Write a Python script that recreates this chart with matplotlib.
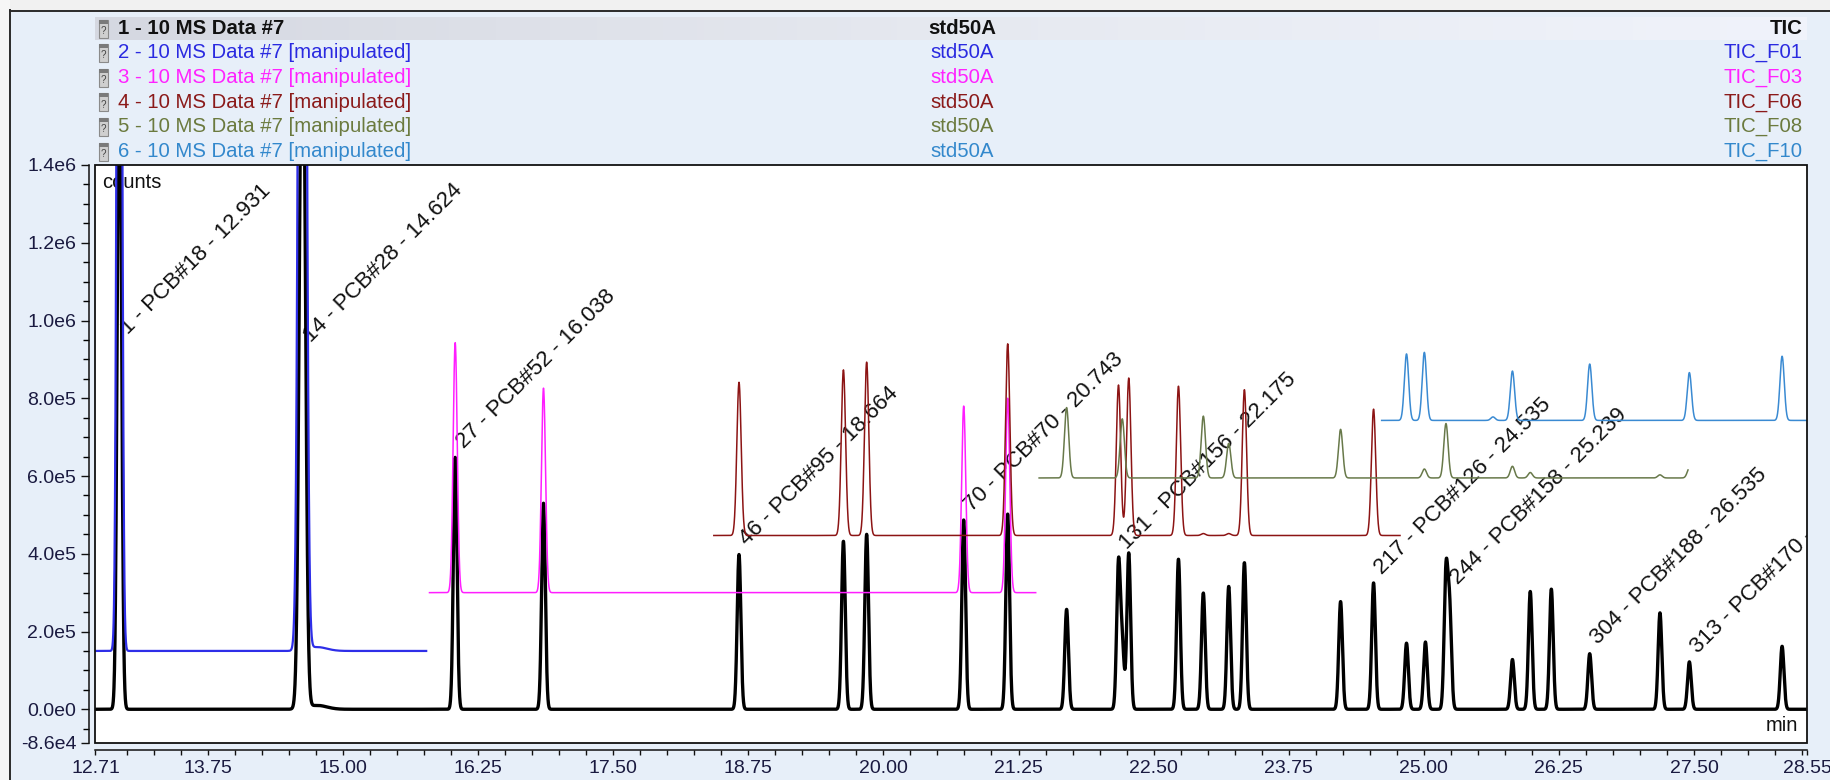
import numpy as np
import matplotlib
matplotlib.use('Agg')
import matplotlib.pyplot as plt
from matplotlib.patches import Rectangle
from matplotlib.colors import LinearSegmentedColormap
from matplotlib.ticker import FixedLocator

plt.rcParams['font.family'] = ['Liberation Sans', 'DejaVu Sans']

W, H, DPI = 1831, 780, 100

# ---------------- data ----------------
x_min, x_max = 12.71, 28.55
y_min, y_max = -8.6e4, 1.4e6

x_major = [12.71, 13.75, 15.00, 16.25, 17.50, 18.75, 20.00, 21.25, 22.50, 23.75, 25.00, 26.25, 27.50, 28.55]
x_major_labels = ["12.71", "13.75", "15.00", "16.25", "17.50", "18.75", "20.00", "21.25", "22.50", "23.75", "25.00", "26.25", "27.50", "28.55"]
y_major = [-8.6e4, 0, 2e5, 4e5, 6e5, 8e5, 1.0e6, 1.2e6, 1.4e6]
y_major_labels = ["-8.6e4", "0.0e0", "2.0e5", "4.0e5", "6.0e5", "8.0e5", "1.0e6", "1.2e6", "1.4e6"]

# trace 1 (TIC) : peak apex times (min), apex heights (counts), widths (min)
black_t = [12.931, 14.624, 14.76, 16.038, 16.855, 18.664, 19.630, 19.845, 20.743, 21.150,
           21.695, 22.175, 22.210, 22.270, 22.730, 22.960, 23.195, 23.340, 24.230, 24.535,
           24.840, 25.015, 25.205, 25.239, 25.820, 25.985, 26.180, 26.535, 27.185, 27.457, 28.315]
black_h = [1.8e6, 2.0e6, 1.0e4, 6.48e5, 5.3e5, 3.98e5, 4.32e5, 4.5e5, 4.87e5, 5.02e5,
           2.57e5, 3.7e5, 1.6e5, 4.02e5, 3.86e5, 2.99e5, 3.16e5, 3.77e5, 2.77e5, 3.25e5,
           1.7e5, 1.73e5, 3.45e5, 2.5e5, 1.28e5, 3.03e5, 3.09e5, 1.43e5, 2.48e5, 1.22e5, 1.62e5]
black_w = [0.019, 0.026, 0.09] + [0.017] * 28

# trace 2 (TIC_F01)
f01_base, f01_start, f01_end = 1.5e5, 12.71, 15.77
f01_t = [12.931, 14.624, 14.76]
f01_h = [4.0e6, 5.1e6, 1.6e5]
f01_w = [0.019, 0.027, 0.09]

# trace 3 (TIC_F03)
f03_base, f03_start, f03_end = 3.0e5, 15.80, 21.41
f03_t = [16.038, 16.855, 20.743, 21.150]
f03_h = [9.43e5, 8.26e5, 7.8e5, 8.0e5]

# trace 4 (TIC_F06)
f06_base, f06_start, f06_end = 4.47e5, 18.43, 24.78
f06_t = [18.664, 19.630, 19.845, 21.150, 22.175, 22.270, 22.730, 22.960, 23.195, 23.340, 24.535]
f06_h = [8.41e5, 8.73e5, 8.93e5, 9.4e5, 8.34e5, 8.52e5, 8.31e5, 4.52e5, 4.52e5, 8.22e5, 7.72e5]

# trace 5 (TIC_F08)
f08_base, f08_start, f08_end = 5.95e5, 21.44, 27.445
f08_t = [21.695, 22.210, 22.960, 23.195, 24.230, 25.005, 25.205, 25.820, 25.985, 27.185, 27.457]
f08_h = [7.76e5, 7.47e5, 7.54e5, 6.84e5, 7.2e5, 6.18e5, 7.35e5, 6.25e5, 6.09e5, 6.03e5, 6.2e5]

# trace 6 (TIC_F10)
f10_base, f10_start, f10_end = 7.43e5, 24.61, 28.55
f10_t = [24.840, 25.005, 25.640, 25.820, 26.535, 27.457, 28.315]
f10_h = [9.14e5, 9.18e5, 7.52e5, 8.7e5, 8.88e5, 8.66e5, 9.08e5]

# peak labels
label_text = ["1 - PCB#18 - 12.931", "14 - PCB#28 - 14.624", "27 - PCB#52 - 16.038",
              "46 - PCB#95 - 18.664", "70 - PCB#70 - 20.743", "131 - PCB#156 - 22.175",
              "217 - PCB#126 - 24.535", "244 - PCB#158 - 25.239", "304 - PCB#188 - 26.535",
              "313 - PCB#170 - 27.457"]
label_t = [12.931, 14.624, 16.038, 18.664, 20.743, 22.175, 24.535, 25.239, 26.535, 27.457]
label_y = [9.4e5, 9.2e5, 6.48e5, 3.98e5, 4.87e5, 3.88e5, 3.25e5, 2.97e5, 1.43e5, 1.22e5]

legend_names = ["1 - 10 MS Data #7", "2 - 10 MS Data #7 [manipulated]", "3 - 10 MS Data #7 [manipulated]",
                "4 - 10 MS Data #7 [manipulated]", "5 - 10 MS Data #7 [manipulated]", "6 - 10 MS Data #7 [manipulated]"]
legend_sample = ["std50A"] * 6
legend_signal = ["TIC", "TIC_F01", "TIC_F03", "TIC_F06", "TIC_F08", "TIC_F10"]

# ---------------- styles ----------------
C_BLACK = '#000000'
C_F01 = '#2e2ee8'
C_F03 = '#ff1eff'
C_F06 = '#8c1414'
C_F08 = '#68794a'
C_F10 = '#3a8ad2'
legend_colors = ['#111111', '#2a2ae0', '#ff22ff', '#8b1a1a', '#6b7a3e', '#3388cc']

t = np.linspace(x_min, x_max, 14000)


def trace(base, times, apex, widths, t0, t1):
    tt = t[(t >= t0 - 1e-9) & (t <= t1 + 1e-9)]
    y = np.full_like(tt, base)
    for ti, hi, wi in zip(times, apex, widths):
        y = y + (hi - base) * np.exp(-0.5 * ((tt - ti) / wi) ** 2)
    return tt, y


fig = plt.figure(figsize=(W / DPI, H / DPI), dpi=DPI, facecolor='#e7eff9')

# background / legend layer in pixel coordinates
bg = fig.add_axes([0, 0, 1, 1], zorder=0)
bg.set_xlim(0, W)
bg.set_ylim(H, 0)
bg.axis('off')
bg.add_patch(Rectangle((0, 0), W, 10, facecolor='#f1f1f1', edgecolor='none'))
bg.add_patch(Rectangle((0, 0), 10, H, facecolor='#f6f6f6', edgecolor='none'))
bg.plot([10, W], [10.5, 10.5], color='#2a2a2a', lw=1.4)
bg.plot([10.5, 10.5], [10, H], color='#2a2a2a', lw=1.4)

grad = np.linspace(0, 1, 256).reshape(1, -1)
cmap_hl = LinearSegmentedColormap.from_list('hl', ['#d5d8e1', '#e6e9f0', '#f0f3fb'])
bg.imshow(grad, extent=(95, 1807, 40, 17), aspect='auto', cmap=cmap_hl, zorder=1)

row_y = [28.5, 53, 77.5, 102, 126.5, 151.5]
for i in range(6):
    y = row_y[i]
    bold = 'bold' if i == 0 else 'normal'
    col = legend_colors[i]
    # small "?" document icon
    bg.add_patch(Rectangle((99, y - 9), 9, 18, facecolor='#cfcfcf', edgecolor='#8a8a8a', lw=0.8, zorder=2))
    bg.add_patch(Rectangle((99, y - 9), 9, 4, facecolor='#7a7a7a', edgecolor='none', zorder=3))
    bg.text(103.5, y + 2.5, '?', fontsize=7, color='#444444', ha='center', va='center', zorder=4)
    bg.text(118, y, legend_names[i], fontsize=14.7, color=col, fontweight=bold, ha='left', va='center', zorder=4)
    bg.text(962, y, legend_sample[i], fontsize=14.7, color=col, fontweight=bold, ha='center', va='center', zorder=4)
    bg.text(1803, y, legend_signal[i], fontsize=14.7, color=col, fontweight=bold, ha='right', va='center', zorder=4)

# main chart
left, right, top, bottom = 95.5, 1807.5, 165, 742.7
ax = fig.add_axes([left / W, (H - bottom) / H, (right - left) / W, (bottom - top) / H], zorder=1)
ax.set_facecolor('white')
ax.set_xlim(x_min, x_max)
ax.set_ylim(y_min, y_max)

for sp in ['top', 'right']:
    ax.spines[sp].set_visible(False)
ax.spines['left'].set_position(('outward', 5))
ax.spines['bottom'].set_position(('outward', 5.2))
for sp in ['left', 'bottom']:
    ax.spines[sp].set_linewidth(1.1)
    ax.spines[sp].set_color('#111111')
ax.add_patch(Rectangle((0, 0), 1, 1, transform=ax.transAxes, fill=False, lw=1.3,
                       ec='#111111', clip_on=False, zorder=20))

ax.set_xticks(x_major)
ax.set_xticklabels(x_major_labels)
ax.set_yticks(y_major)
ax.set_yticklabels(y_major_labels)
x_minor = [v for v in np.arange(13.0, 28.51, 0.25) if min(abs(v - m) for m in x_major) > 1e-6]
y_minor = [v for v in np.arange(-5e4, 1.4e6, 5e4) if min(abs(v - m) for m in y_major) > 1]
ax.xaxis.set_minor_locator(FixedLocator(x_minor))
ax.yaxis.set_minor_locator(FixedLocator(y_minor))
ax.tick_params(axis='y', which='major', direction='out', length=5.8, width=1.0, labelsize=14, pad=3, colors='#111111')
ax.tick_params(axis='y', which='minor', direction='out', length=4.3, width=1.0)
ax.tick_params(axis='x', which='both', direction='out', length=3.6, width=1.0, labelsize=14, pad=3.5, colors='#111111')
for lab in ax.get_xticklabels() + ax.get_yticklabels():
    lab.set_color('#1a1a40')

# traces (trace 1 first, later traces on top)
tt, yy = trace(0.0, black_t, black_h, black_w, x_min, x_max)
ax.plot(tt, yy, color=C_BLACK, lw=2.4, zorder=3, solid_joinstyle='round')

tt, yy = trace(f01_base, f01_t, f01_h, f01_w, f01_start, f01_end)
ax.plot(tt, yy, color=C_F01, lw=1.6, zorder=4)

tt, yy = trace(f03_base, f03_t, f03_h, [0.019] * len(f03_t), f03_start, f03_end)
ax.plot(tt, yy, color=C_F03, lw=1.1, zorder=5)

tt, yy = trace(f06_base, f06_t, f06_h, [0.02] * len(f06_t), f06_start, f06_end)
ax.plot(tt, yy, color=C_F06, lw=1.1, zorder=6)

tt, yy = trace(f08_base, f08_t, f08_h, [0.02] * len(f08_t), f08_start, f08_end)
ax.plot(tt, yy, color=C_F08, lw=1.1, zorder=7)

tt, yy = trace(f10_base, f10_t, f10_h, [0.02] * len(f10_t), f10_start, f10_end)
ax.plot(tt, yy, color=C_F10, lw=1.1, zorder=8)

# peak labels (drawn beneath the traces, clipped at the frame)
for txt, lt, ly in zip(label_text, label_t, label_y):
    ax.annotate(txt, xy=(lt, ly), xytext=(6.0, 6.0), textcoords='offset points',
                rotation=45, rotation_mode='anchor', ha='left', va='baseline',
                fontsize=16, color='#111111', zorder=2, annotation_clip=False, clip_on=True)

ax.text(7 / (right - left), 1 - 18 / (bottom - top), 'counts', transform=ax.transAxes,
        fontsize=14.5, ha='left', va='center', color='#111111', zorder=1)
ax.text(1 - 9 / (right - left), 17 / (bottom - top), 'min', transform=ax.transAxes,
        fontsize=14.5, ha='right', va='center', color='#111111', zorder=1)

fig.savefig('out.png', dpi=DPI, facecolor=fig.get_facecolor())
